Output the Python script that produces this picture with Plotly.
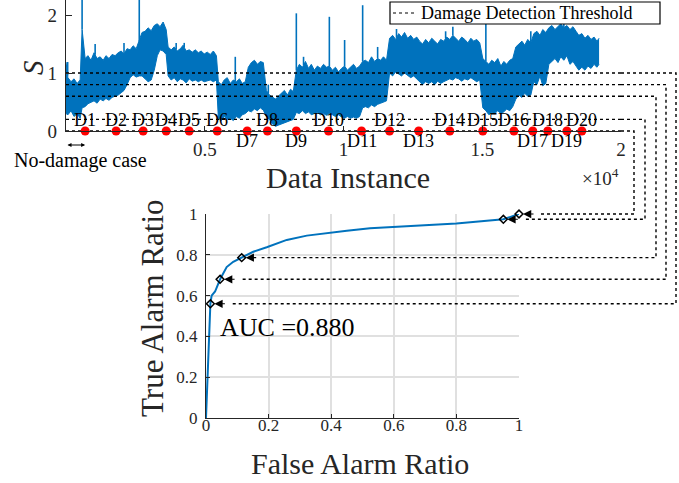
import numpy as np
import plotly.graph_objects as go

W, H = 679, 483
FONT = "Liberation Serif"
BLUE = "#0072BD"
INK = "#262626"

# ---- damage index S: lower / upper envelope of the monitored signal ----
inst = [0, 70, 180, 290, 400, 510, 580, 690, 790, 900, 1010, 1120, 1230, 1340, 1440, 1550,
        1660, 1770, 1880, 1990, 2090, 2200, 2310, 2420, 2530, 2640, 2740, 2850, 2960, 3070,
        3180, 3290, 3390, 3500, 3610, 3680, 3790, 3900, 4010, 4120, 4220, 4330, 4440, 4550,
        4660, 4770, 4870, 4980, 5090, 5200, 5310, 5420, 5490, 5600, 5700, 5810, 5920, 6030,
        6140, 6250, 6350, 6460, 6570, 6680, 6790, 6900, 7000, 7110, 7220, 7330, 7440, 7550,
        7650, 7760, 7870, 7980, 8090, 8190, 8300, 8410, 8520, 8630, 8740, 8840, 8950, 9060,
        9170, 9280, 9390, 9490, 9600, 9710, 9820, 9930, 10040, 10140, 10250, 10360, 10470,
        10580, 10690, 10790, 10900, 11010, 11120, 11230, 11340, 11440, 11550, 11660, 11770,
        11880, 11990, 12090, 12200, 12310, 12420, 12530, 12640, 12740, 12850, 12960, 13070,
        13180, 13290, 13390, 13500, 13610, 13720, 13830, 13940, 14040, 14150, 14260, 14370,
        14480, 14590, 14690, 14800, 14910, 15020, 15130, 15240, 15340, 15450, 15560, 15670,
        15780, 15880, 15990, 16100, 16210, 16320, 16430, 16530, 16640, 16750, 16860, 16970,
        17080, 17180, 17290, 17400, 17510, 17620, 17730, 17830, 17940, 18050, 18160, 18270,
        18380, 18480, 18590, 18700, 18810, 18920, 19030, 19130, 19210]
s_hi = [1.19, 0.92, 0.85, 0.90, 0.82, 0.88, 1.75, 1.25, 1.30, 1.22, 1.35, 1.25, 1.28, 1.22, 1.30, 1.25,
        1.32, 1.30, 1.35, 1.38, 1.33, 1.42, 1.40, 1.47, 1.42, 1.55, 1.70, 1.72, 1.78, 1.73,
        1.82, 1.85, 1.80, 1.88, 1.75, 1.45, 1.40, 1.45, 1.38, 1.42, 1.48, 1.38, 1.40, 1.36,
        1.40, 1.35, 1.38, 1.33, 1.36, 1.32, 1.38, 1.30, 0.85, 0.80, 0.88, 0.92, 0.82, 0.88,
        0.85, 0.90, 0.82, 0.85, 1.10, 1.18, 1.22, 1.15, 1.20, 1.18, 0.70, 0.62, 0.58, 0.55,
        0.60, 0.65, 0.70, 0.62, 0.72, 0.68, 1.05, 1.15, 1.10, 1.20, 1.08, 1.15, 1.05, 1.12,
        1.08, 1.15, 1.10, 1.12, 1.05, 1.10, 1.02, 1.08, 1.12, 1.05, 1.10, 1.15, 1.08,
        1.12, 1.20, 1.22, 1.18, 1.28, 1.20, 1.25, 1.22, 1.28, 1.22, 1.60, 1.65,
        1.58, 1.68, 1.62, 1.70, 1.60, 1.65, 1.58, 1.62, 1.55, 1.50, 1.58, 1.52,
        1.60, 1.55, 1.50, 1.58, 1.55, 1.62, 1.58, 1.65, 1.60, 1.55, 1.62, 1.58,
        1.52, 1.60, 1.55, 1.58, 1.52, 1.25, 1.20, 1.15, 1.22, 1.18, 1.25, 1.12,
        1.20, 1.15, 1.22, 1.25, 1.45, 1.50, 1.55, 1.48, 1.58, 1.52, 1.68, 1.72,
        1.65, 1.75, 1.70, 1.78, 1.82, 1.75, 1.80, 1.85, 1.78, 1.82, 1.75, 1.80,
        1.72, 1.65, 1.68, 1.60, 1.65, 1.58, 1.62, 1.55, 1.60]
s_lo = [0.30, 0.28, 0.35, 0.25, 0.30, 0.22, 0.40, 0.42, 0.47, 0.50, 0.52, 0.48, 0.55, 0.52, 0.56, 0.53,
        0.58, 0.60, 0.62, 0.66, 0.70, 0.80, 0.92, 0.97, 0.93, 0.95, 0.95, 0.90, 0.85, 0.88,
        1.05, 1.30, 1.40, 1.38, 1.32, 0.95, 0.88, 0.92, 0.85, 0.90, 0.88, 0.83, 0.90, 0.86,
        0.88, 0.85, 0.88, 0.85, 0.86, 0.88, 0.85, 0.88, 0.22, 0.18, 0.25, 0.20, 0.22, 0.18,
        0.25, 0.22, 0.28, 0.30, 0.35, 0.33, 0.38, 0.35, 0.40, 0.36, 0.25, 0.20, 0.12, 0.08,
        0.10, 0.12, 0.15, 0.16, 0.18, 0.20, 0.32, 0.30, 0.35, 0.30, 0.33, 0.28, 0.30, 0.32,
        0.28, 0.30, 0.27, 0.30, 0.28, 0.25, 0.28, 0.24, 0.22, 0.25, 0.22, 0.24, 0.22,
        0.25, 0.40, 0.42, 0.40, 0.45, 0.42, 0.46, 0.48, 0.50, 0.52, 1.00, 0.95,
        1.02, 0.98, 0.95, 1.00, 0.96, 0.92, 0.95, 0.90, 0.85, 0.80, 0.85, 0.82,
        0.85, 0.80, 0.86, 0.82, 0.85, 0.88, 0.90, 0.88, 0.92, 0.90, 0.86, 0.90,
        0.88, 0.92, 0.88, 0.85, 0.88, 0.40, 0.35, 0.28, 0.32, 0.30, 0.35, 0.30,
        0.33, 0.38, 0.35, 0.42, 0.55, 0.62, 0.58, 0.65, 0.60, 0.62, 0.85, 0.80,
        0.95, 0.78, 0.82, 1.15, 1.20, 1.25, 1.18, 1.28, 1.22, 1.30, 1.15, 1.20,
        1.12, 1.05, 1.10, 1.05, 1.12, 1.08, 1.15, 1.10, 1.15]

# isolated peaks of S
peak_inst = [60, 580, 1050, 2090, 2640, 3970, 4260, 6100, 7290, 8300, 8560, 9490, 10040,
             10690, 11230, 11910, 13680, 13940, 15130, 16750, 17940]
peak_val = [1.19, 2.30, 1.50, 1.52, 2.30, 1.52, 1.52, 1.28, 0.80, 2.03, 1.28, 1.97, 1.57,
            2.17, 1.45, 1.76, 1.72, 1.80, 1.85, 1.72, 1.88]

# damage cases and where each one starts
case_labels = ["D%d" % i for i in range(1, 21)]
case_inst = [690, 1805, 2780, 3610, 4440, 5450, 6530, 7260, 8300, 9460,
             10650, 11660, 12710, 13830, 15020, 16140, 16820, 17360, 18050, 18590]
case_below = ["D7", "D9", "D11", "D13", "D17", "D19"]

# detection thresholds and the ROC operating points they give
thresholds = [1.0, 0.8, 0.6, 0.2, 0.0]
op_far = [0.014, 0.045, 0.114, 0.95, 1.0]
op_tar = [0.56, 0.68, 0.786, 0.974, 1.0]

# ROC curve
roc_far = [0, 0.004, 0.007, 0.011, 0.014, 0.018, 0.029, 0.045, 0.066, 0.087, 0.114, 0.151,
           0.194, 0.258, 0.322, 0.375, 0.45, 0.524, 0.609, 0.70, 0.80, 0.95, 1.0]
roc_tar = [0, 0.137, 0.30, 0.43, 0.56, 0.60, 0.62, 0.68, 0.74, 0.766, 0.786, 0.815,
           0.837, 0.873, 0.894, 0.905, 0.918, 0.93, 0.938, 0.945, 0.954, 0.974, 1.0]
auc = 0.880

# ---- layout geometry (pixels -> paper fractions, no margins) ----
def fx(px):
    return px / W

def fy(py):
    return 1 - py / H

TOP_X = [fx(66), fx(621)]
TOP_Y = [fy(131), 1.0]
TOP_XR = [0, 20000]
TOP_YR = [0, 2.26]
ROC_X = [fx(206), fx(519)]
ROC_Y = [fy(418), fy(214)]

def top_paper(x, y):
    return (TOP_X[0] + (x - TOP_XR[0]) / (TOP_XR[1] - TOP_XR[0]) * (TOP_X[1] - TOP_X[0]),
            TOP_Y[0] + (y - TOP_YR[0]) / (TOP_YR[1] - TOP_YR[0]) * (TOP_Y[1] - TOP_Y[0]))

def roc_paper(f, t):
    return (ROC_X[0] + f * (ROC_X[1] - ROC_X[0]), ROC_Y[0] + t * (ROC_Y[1] - ROC_Y[0]))

def label(px, py, text, size, color=INK, angle=0, xanchor="center"):
    return dict(x=fx(px), y=fy(py), xref="paper", yref="paper", text=text, textangle=angle,
                xanchor=xanchor, yanchor="middle", showarrow=False,
                font=dict(family=FONT, size=size, color=color))

fig = go.Figure()

# signal band
fig.add_trace(go.Scatter(x=inst, y=s_lo, mode="lines", line=dict(color=BLUE, width=1),
                         showlegend=False, hoverinfo="skip"))
fig.add_trace(go.Scatter(x=inst, y=s_hi, mode="lines", line=dict(color=BLUE, width=1),
                         fill="tonexty", fillcolor=BLUE, showlegend=False, hoverinfo="skip"))
base = np.interp(peak_inst, inst, s_hi)
px_, py_ = [], []
for xi, b, v in zip(peak_inst, base, peak_val):
    px_ += [xi, xi, None]
    py_ += [b, v, None]
fig.add_trace(go.Scatter(x=px_, y=py_, mode="lines", line=dict(color=BLUE, width=1.6),
                         showlegend=False, hoverinfo="skip"))

# threshold lines
for th in thresholds:
    fig.add_trace(go.Scatter(x=TOP_XR, y=[th, th], mode="lines",
                             line=dict(color="black", width=1.4, dash="dot"),
                             showlegend=False, hoverinfo="skip"))

# damage case markers
fig.add_trace(go.Scatter(x=case_inst, y=[0] * len(case_inst), mode="markers",
                         marker=dict(color="#FF0000", size=9), cliponaxis=False,
                         showlegend=False))

# ROC
fig.add_trace(go.Scatter(x=roc_far, y=roc_tar, mode="lines", line=dict(color=BLUE, width=2),
                         xaxis="x2", yaxis="y2", showlegend=False))
fig.add_trace(go.Scatter(x=op_far, y=op_tar, mode="markers", xaxis="x2", yaxis="y2",
                         marker=dict(symbol="diamond-open", color="black", size=6,
                                     line=dict(width=1.5)),
                         cliponaxis=False, showlegend=False))

annotations = []
for lab, xi in zip(case_labels, case_inst):
    below = lab in case_below
    annotations.append(dict(x=xi, y=0, xref="x", yref="y", text=lab, showarrow=False,
                            xanchor="center", yanchor="middle",
                            yshift=-10 if below else 11,
                            font=dict(family=FONT, size=18, color="black")))

# arrows from thresholds to operating points
shapes = []
corner_px = [676, 666, 656, 645, 634]
for th, f, t, cx in zip(thresholds, op_far, op_tar, corner_px):
    x0, y0 = top_paper(TOP_XR[1], th)
    mx, my = roc_paper(f, t)
    ex = mx + 20 / W
    shapes.append(dict(type="path", xref="paper", yref="paper",
                       path=f"M {x0},{y0} L {fx(cx)},{y0} L {fx(cx)},{my} L {ex},{my}",
                       line=dict(color="black", width=1.4, dash="dot")))
    annotations.append(dict(x=f, y=t, xref="x2", yref="y2", ax=16, ay=0, text="",
                            showarrow=True, arrowhead=2, arrowsize=1.5, arrowwidth=1.1,
                            arrowcolor="black", standoff=4))

# legend box for the threshold lines
shapes.append(dict(type="rect", xref="paper", yref="paper", x0=fx(390), x1=fx(660),
                   y0=fy(24), y1=fy(2), line=dict(color="black", width=1.2),
                   fillcolor="white", layer="above"))
shapes.append(dict(type="line", xref="paper", yref="paper", x0=fx(393), x1=fx(416),
                   y0=fy(13), y1=fy(13), line=dict(color="black", width=1.2, dash="dot")))
annotations.append(label(419, 13, "Damage Detection Threshold", 18, "black", xanchor="left"))

# no-damage span
annotations.append(dict(x=case_inst[0], y=fy(145), xref="x", yref="paper", ax=0, ay=0,
                        axref="x", ayref="pixel", text="", showarrow=True,
                        arrowhead=2, arrowside="end+start", arrowsize=0.8, arrowwidth=1,
                        arrowcolor="black"))
annotations.append(label(80, 160, "No-damage case", 20, "black"))

annotations += [
    label(33, 68, "<i>S</i>", 29, angle=-90),
    label(348, 177, "Data Instance", 30),
    label(600, 177, "×10<sup>4</sup>", 19),
    label(152, 308, "True Alarm Ratio", 31, angle=-90),
    label(360, 463, "False Alarm Ratio", 30),
    label(218, 327, f"AUC ={auc:.3f}", 26, "black", xanchor="left"),
]

axis_common = dict(showline=True, linecolor=INK, linewidth=1.2, ticks="inside",
                   tickcolor=INK, zeroline=False, automargin=False)

fig.update_layout(
    template="none", showlegend=False,
    width=W, height=H, margin=dict(l=0, r=0, t=0, b=0, pad=0, autoexpand=False),
    paper_bgcolor="white", plot_bgcolor="white",
    xaxis=dict(domain=TOP_X, range=TOP_XR, tickvals=[5000, 10000, 15000, 20000],
               ticktext=["0.5", "1", "1.5", "2"], ticklen=5, showgrid=False,
               ticklabelstandoff=1, anchor="y",
               tickfont=dict(family=FONT, size=19, color=INK), **axis_common),
    yaxis=dict(domain=TOP_Y, range=TOP_YR, tickvals=[0, 1, 2], ticklen=6, showgrid=False,
               anchor="x", ticklabelstandoff=4,
               tickfont=dict(family=FONT, size=19, color=INK), **axis_common),
    xaxis2=dict(domain=ROC_X, range=[0, 1], tickvals=[0, 0.2, 0.4, 0.6, 0.8, 1],
                ticktext=["0", "0.2", "0.4", "0.6", "0.8", "1"], ticklen=4,
                showgrid=True, gridcolor="#E0E0E0", gridwidth=1.5, anchor="y2",
                ticklabelstandoff=-9,
                tickfont=dict(family=FONT, size=17, color=INK), **axis_common),
    yaxis2=dict(domain=ROC_Y, range=[0, 1], tickvals=[0, 0.2, 0.4, 0.6, 0.8, 1],
                ticktext=["0", "0.2", "0.4", "0.6", "0.8", "1"], ticklen=4,
                showgrid=True, gridcolor="#E0E0E0", gridwidth=1.5, anchor="x2",
                ticklabelstandoff=4,
                tickfont=dict(family=FONT, size=17, color=INK), **axis_common),
    shapes=shapes, annotations=annotations,
)

fig.write_html("out.html")
